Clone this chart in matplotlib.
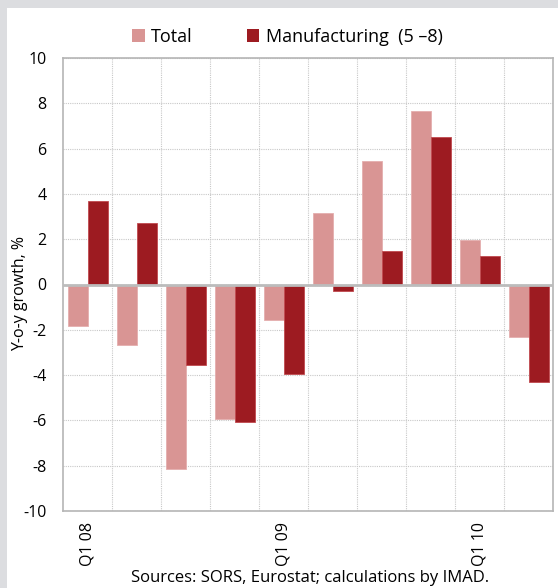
import matplotlib
matplotlib.use('Agg')

import numpy as np
import matplotlib.pyplot as plt
from matplotlib.patches import Rectangle, Patch

plt.rcParams['font.family'] = ['Open Sans', 'DejaVu Sans']

# data
quarters = ["Q1 08", "Q2 08", "Q3 08", "Q4 08", "Q1 09",
            "Q2 09", "Q3 09", "Q4 09", "Q1 10", "Q2 10"]
tick_labels = ["Q1 08", "", "", "", "Q1 09", "", "", "", "Q1 10", ""]
total = [-1.85, -2.65, -8.15, -5.95, -1.55, 3.15, 5.45, 7.65, 1.95, -2.3]
manufacturing = [3.7, 2.7, -3.55, -6.05, -3.95, -0.3, 1.5, 6.5, 1.25, -4.3]

series_names = ["Total", "Manufacturing  (5 \u20138)"]
COL_TOTAL = '#d99594'
COL_MANUF = '#9d1b21'

fig = plt.figure(figsize=(5.58, 5.88), dpi=100)
fig.patch.set_facecolor('#dcdde0')
# white panel, gray strip on left and top
fig.patches.append(Rectangle((7 / 558, 0), 1, 1 - 8 / 588,
                             transform=fig.transFigure, facecolor='white',
                             edgecolor='none', zorder=-10))

ax = fig.add_axes([63 / 558, 77 / 588, 490 / 558, 453 / 588])
ax.set_zorder(1)
ax.set_facecolor('white')

x = np.arange(len(quarters))
w = 0.4
ax.bar(x - 0.19, total, w, color=COL_TOTAL, edgecolor='#e4aeae',
       linewidth=0.6, zorder=3)
ax.bar(x + 0.21, manufacturing, w, color=COL_MANUF, edgecolor='#c04a4f',
       linewidth=0.6, zorder=3)

ax.axhline(0, color='#bcbcbc', lw=2, zorder=4)

ax.set_xlim(-0.5, len(quarters) - 0.5)
ax.set_ylim(-10, 10)
ax.set_yticks(np.arange(-10, 11, 2))
ax.set_yticklabels([str(v) for v in range(-10, 11, 2)], fontsize=11.5)
ax.set_xticks(x)
ax.set_xticklabels(tick_labels, rotation=90, fontsize=11.5, va='top')
ax.set_xticks(np.arange(0.5, len(quarters) - 0.5, 1), minor=True)
ax.tick_params(axis='both', which='both', length=0)
ax.tick_params(axis='y', pad=12)
ax.tick_params(axis='x', pad=8)

ax.grid(which='major', axis='y', color='#c8c8c8', linestyle=(0, (1, 1)),
        lw=0.8, zorder=1)
ax.grid(which='minor', axis='x', color='#c8c8c8', linestyle=(0, (1, 1)),
        lw=0.8, zorder=1)
ax.set_axisbelow(True)

for s in ax.spines.values():
    s.set_color('#b5b5b5')
    s.set_linewidth(1.2)

ax.set_ylabel('Y-o-y growth, %', fontsize=11.5, va='center')
ax.yaxis.set_label_coords(-0.088, 0.48)

handles = [Patch(facecolor=COL_TOTAL, edgecolor='none'),
           Patch(facecolor=COL_MANUF, edgecolor='none')]
fig.legend(handles, series_names, loc='center', ncol=2,
           bbox_to_anchor=(0.515, 1 - 37 / 588), frameon=False,
           fontsize=13, handlelength=0.7, handleheight=0.7,
           handletextpad=0.35, columnspacing=3.0)

fig.text(0.555, 1 - 578 / 588, 'Sources: SORS, Eurostat; calculations by IMAD.',
         ha='center', va='center', fontsize=12)

plt.savefig('out.png', dpi=100, facecolor=fig.get_facecolor())
